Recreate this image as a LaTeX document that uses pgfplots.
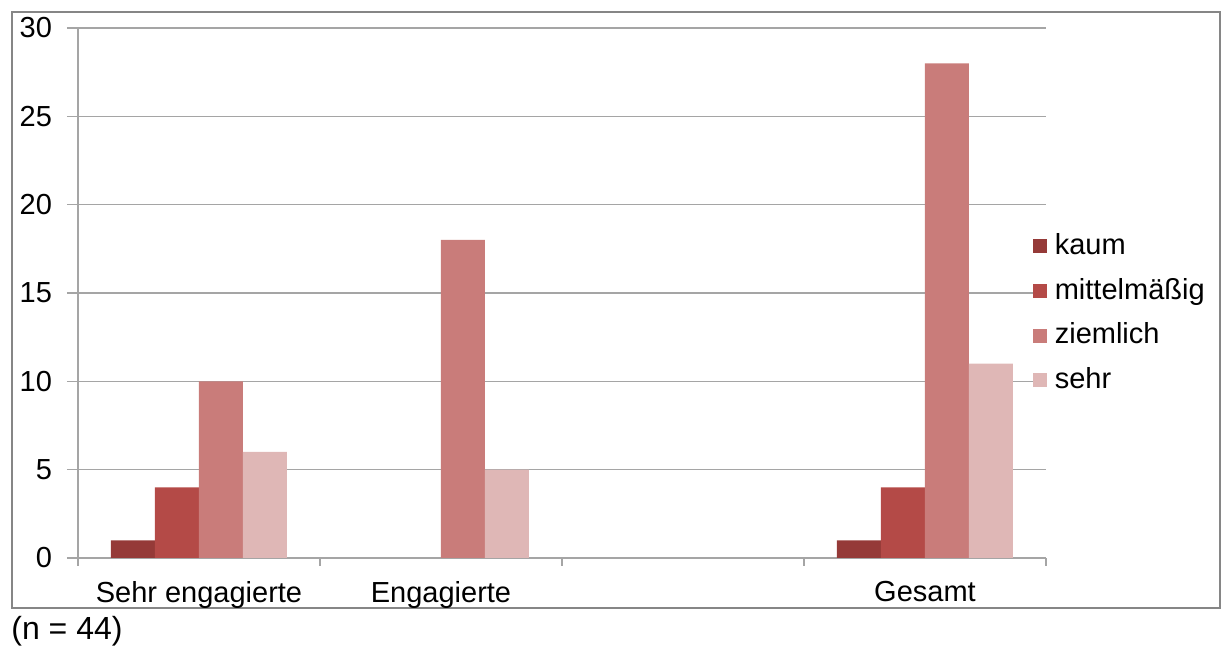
\documentclass[border=0pt]{standalone}
\usepackage{pgfplots}
\pgfplotsset{compat=1.18}
\usepackage{fontspec}
\setmainfont{Liberation Sans}
\definecolor{ckaum}{RGB}{149,58,56}
\definecolor{cmittel}{RGB}{180,74,71}
\definecolor{cziem}{RGB}{201,124,122}
\definecolor{csehr}{RGB}{223,183,182}
\definecolor{gridgray}{RGB}{165,165,165}
\definecolor{framegray}{RGB}{134,134,134}
\begin{document}
\fontsize{14.5}{17}\selectfont
\begin{tikzpicture}[font=\fontsize{14.5}{17}\selectfont]
\path[use as bounding box] (0,0) rectangle (611.5pt,323pt);
\draw[framegray, line width=1pt] (6pt,19pt) rectangle (610pt,317pt);
\node[anchor=west, inner sep=0pt, font=\fontsize{16}{18}\selectfont] at (5.5pt,7.5pt) {(n = 44)};
\begin{axis}[
  at={(39pt,44pt)}, anchor=south west,
  scale only axis, width=484pt, height=265pt,
  xmin=-0.5, xmax=3.5, ymin=0, ymax=30,
  ybar=0pt, bar width=22pt,
  axis x line*=bottom, axis y line*=left,
  axis line style={gridgray, line width=0.6pt, -},
  ytick={0,5,10,15,20,25,30},
  ymajorgrids, grid style={gridgray, line width=0.6pt},
  tick align=outside, major tick length=5.5pt,
  tick style={gridgray, line width=0.6pt},
  yticklabel style={xshift=-2.5pt},
  /pgf/number format/assume math mode=true,
  xtick={-0.5,0.5,1.5,2.5,3.5},
  xticklabels={,,,,},
  major x tick style={/pgfplots/major tick length=4pt},
  extra x ticks={0,1,2,3},
  extra x tick labels={Sehr engagierte,Engagierte,,Gesamt},
  extra x tick style={major x tick style={/pgfplots/major tick length=0pt, draw=none},
    xticklabel style={yshift=-1pt}},
  legend style={at={(axis description cs:0.986,0.462)}, anchor=west,
    draw=none, fill=none, row sep=5.75pt, inner sep=0pt,
    /tikz/every odd column/.append style={column sep=2pt}},
  legend cell align=left,
  legend image code/.code={\fill[#1] (0pt,-3.5pt) rectangle (7pt,3.5pt);},
]
\addplot[fill=ckaum, draw=none] coordinates {(0,1) (3,1)};
\addplot[fill=cmittel, draw=none] coordinates {(0,4) (3,4)};
\addplot[fill=cziem, draw=none] coordinates {(0,10) (1,18) (3,28)};
\addplot[fill=csehr, draw=none] coordinates {(0,6) (1,5) (3,11)};
\legend{kaum,mittelmäßig,ziemlich,sehr}
\end{axis}
\end{tikzpicture}
\end{document}
